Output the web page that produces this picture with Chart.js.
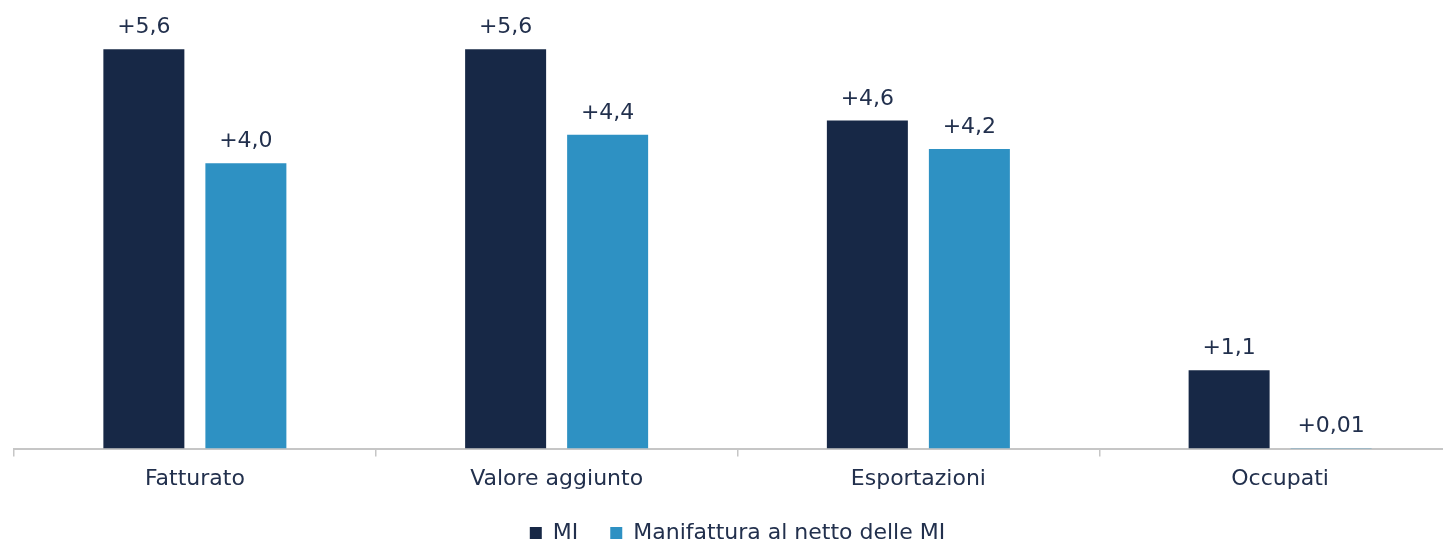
<!DOCTYPE html>
<html>
<head>
<meta charset="utf-8">
<script src="https://cdn.jsdelivr.net/npm/chart.js@4"></script>
<style>
  html, body { margin: 0; padding: 0; background: #fff; overflow: hidden; }
  #wrap { position: absolute; left: 0; top: 0; width: 1461px; height: 541px; }
</style>
</head>
<body>
<div id="wrap"><canvas id="myChart"></canvas></div>
<script>
const categories = ['Fatturato', 'Valore aggiunto', 'Esportazioni', 'Occupati'];
const seriesNames = ['MI', 'Manifattura al netto delle MI'];
const valuesMI = [5.6, 5.6, 4.6, 1.1];
const valuesManifattura = [4.0, 4.4, 4.2, 0.01];

const textColor = '#22304d';
const fontFamily = '"DejaVu Sans", sans-serif';

// etichette "+5,6" sopra le barre
function formatValue(v) {
    const digits = v < 0.1 ? 2 : 1;
    return '+' + v.toFixed(digits).replace('.', ',');
}

const valueLabels = {
    id: 'valueLabels',
    afterDatasetsDraw(chart) {
        const ctx = chart.ctx;
        ctx.save();
        ctx.fillStyle = textColor;
        ctx.font = '22px ' + fontFamily;
        ctx.textAlign = 'center';
        ctx.textBaseline = 'alphabetic';
        chart.data.datasets.forEach((ds, i) => {
            chart.getDatasetMeta(i).data.forEach((bar, j) => {
                ctx.fillText(formatValue(ds.data[j]), bar.x, bar.y - 16);
            });
        });
        ctx.restore();
    }
};

// legenda più bassa: altezza fissa del riquadro
const legendHeight = {
    id: 'legendHeight',
    beforeInit(chart) {
        const fit = chart.legend.fit;
        chart.legend.fit = function() {
            fit.call(this);
            this.height = 51;
        };
    }
};

new Chart(document.getElementById('myChart'), {
    type: 'bar',
    data: {
        labels: categories,
        datasets: [
            { label: seriesNames[0], data: valuesMI, backgroundColor: '#172846' },
            { label: seriesNames[1], data: valuesManifattura, backgroundColor: '#2e91c3' }
        ]
    },
    options: {
        responsive: true,
        maintainAspectRatio: false,
        animation: false,
        categoryPercentage: 0.564,
        barPercentage: 0.794,
        layout: { padding: { left: 14, right: 0, top: 0, bottom: 0 } },
        scales: {
            x: {
                grid: { drawOnChartArea: false, drawTicks: true, tickLength: 8, color: '#c6c6c6', lineWidth: 1.5 },
                border: { color: '#c6c6c6', width: 2 },
                ticks: { color: textColor, font: { family: fontFamily, size: 22 }, padding: 9 },
                afterFit(scale) { scale.height -= 11; }
            },
            y: {
                display: false,
                min: 0,
                max: 6.29
            }
        },
        plugins: {
            legend: {
                position: 'bottom',
                labels: {
                    color: textColor,
                    font: { family: fontFamily, size: 22 },
                    boxWidth: 12,
                    boxHeight: 12,
                    padding: 32
                }
            },
            tooltip: { enabled: false }
        }
    },
    plugins: [valueLabels, legendHeight]
});
</script>
</body>
</html>
